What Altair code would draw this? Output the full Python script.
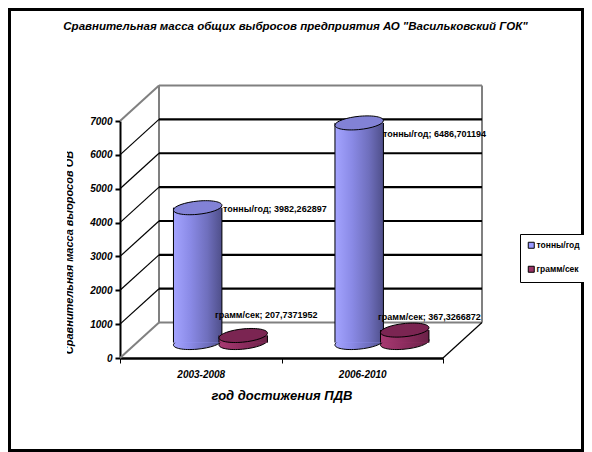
import altair as alt
import pandas as pd

# ---- values ----
CATEGORIES = ["2003-2008", "2006-2010"]
SERIES = ["тонны/год", "грамм/сек"]
TONS = [3982.262897, 6486.701194]
GRAMS = [207.7371952, 367.3266872]
TON_LABELS = ["тонны/год; 3982,262897", "тонны/год; 6486,701194"]
GRAM_LABELS = ["грамм/сек; 207,7371952", "грамм/сек; 367,3266872"]
Y_TICKS = [0, 1000, 2000, 3000, 4000, 5000, 6000, 7000]
TITLE = 'Сравнительная масса общих выбросов предприятия АО "Васильковский ГОК"'
X_TITLE = "год достижения ПДВ"
Y_TITLE = "Сравнительная масса выбросов ОВ"

# ---- pseudo-3D layout, expressed in scale units ----
DX, DY = 0.2415, 1047          # depth of the box
BASE = 457                     # floor level under the cylinders
CYL_W = 0.30
CYL_OFF = {SERIES[0]: 0.331, SERIES[1]: 0.613}
LABEL_OFF_X = {SERIES[0]: [0.638, 0.628], SERIES[1]: [0.588, 0.598]}
LABEL_Y = {SERIES[0]: [4400, 6615], SERIES[1]: [1270, 1210]}
FONT = "Liberation Sans"
W, H = 323, 237
PAD = {"left": 112, "top": 113, "right": 141, "bottom": 94}

x_q = alt.Scale(domain=[0, 2], range=[0, W])
y_q = alt.Scale(domain=[0, 7000], range=[H, 0], nice=False)
X = lambda f: alt.X(f, type="quantitative", scale=x_q, axis=None)
Y = lambda f: alt.Y(f, type="quantitative", scale=y_q, axis=None)


def seg_df(segs):
    return pd.DataFrame(segs, columns=["x0", "y0", "x1", "y1"])


def seg_layer(segs, color, width):
    return (
        alt.Chart(seg_df(segs))
        .mark_rule(color=color, strokeWidth=width)
        .encode(x=X("x0"), x2="x1:Q", y=Y("y0"), y2="y1:Q")
    )


top = Y_TICKS[-1]
inner = Y_TICKS[1:-1]
grey = [
    (0, 0, DX, DY), (0, top, DX, top + DY), (DX, DY, DX, top + DY),
    (DX, top + DY, 2 + DX, top + DY), (2 + DX, DY, 2 + DX, top + DY),
    (DX, DY, 2 + DX, DY),
]
diag = [(0, t, DX, t + DY) for t in inner] + [(2, 0, 2 + DX, DY)]
back = [(DX, t + DY, 2 + DX, t + DY) for t in inner]

axis_df = pd.DataFrame({"cat": CATEGORIES, "v": [0, 0]})
axes = (
    alt.Chart(axis_df)
    .mark_point(opacity=0)
    .encode(
        x=alt.X(
            "cat:N",
            sort=CATEGORIES,
            scale=alt.Scale(domain=CATEGORIES, range=[0, W], paddingInner=0, paddingOuter=0),
            axis=alt.Axis(
                title=X_TITLE, titleFont=FONT, titleFontSize=13, titleFontStyle="italic",
                titleFontWeight="bold", titleColor="black", titleY=31,
                labelFont=FONT, labelFontSize=10, labelFontStyle="italic", labelFontWeight="bold",
                labelColor="black", labelAngle=0, labelPadding=6,
                tickBand="extent", tickColor="black", tickWidth=1, tickSize=5,
                domainColor="black", domainWidth=2.5, grid=False,
            ),
        ),
        y=alt.Y(
            "v:Q",
            scale=y_q,
            axis=alt.Axis(
                values=Y_TICKS, format="d", title=Y_TITLE, titleFont=FONT, titleFontSize=11,
                titleFontStyle="italic", titleFontWeight="bold", titleColor="black",
                titleX=-48, titleY=131, titleBaseline="alphabetic", titleAngle=270,
                labelFont=FONT, labelFontSize=10, labelFontStyle="italic", labelFontWeight="bold",
                labelColor="black", labelPadding=3,
                tickColor="black", tickWidth=2, tickSize=5,
                domainColor="black", domainWidth=2, grid=False,
            ),
        ),
    )
)

mask = (
    alt.Chart(pd.DataFrame({"a": [0]}))
    .mark_rect(color="white")
    .encode(x=alt.value(-112), x2=alt.value(-53), y=alt.value(0), y2=alt.value(H))
)

title_mark = (
    alt.Chart(pd.DataFrame({"t": [TITLE]}))
    .mark_text(font=FONT, fontSize=11.5, fontStyle="italic", fontWeight="bold", color="black", align="center", baseline="middle")
    .encode(text="t:N", x=alt.value(W / 2 + 14), y=alt.value(-94))
)

CAP = "M -1 0.09 A 1 0.27 -6 1 1 1 -0.09 A 1 0.27 -6 1 1 -1 0.09 Z"
CAP_SIZE = 48.5 ** 2


def grad(stops):
    return alt.LinearGradient(
        gradient="linear", x1=0, x2=1, y1=0, y2=0,
        stops=[alt.GradientStop(offset=o, color=c) for o, c in stops],
    )


STYLE = {
    SERIES[0]: dict(
        flat="#9999ff", cap="#8282d6",
        stops=[(0, "#a4a4ff"), (0.35, "#8a8ae6"), (0.7, "#6f6fbd"), (1, "#4f4f8a")],
    ),
    SERIES[1]: dict(
        flat="#993366", cap="#7b2552",
        stops=[(0, "#a83a72"), (0.5, "#8c2c5e"), (1, "#6a2147")],
    ),
}


def cyl_df(series, values):
    return pd.DataFrame(
        {
            "series": series,
            "x0": [i + CYL_OFF[series] for i in range(2)],
            "x1": [i + CYL_OFF[series] + CYL_W for i in range(2)],
            "xc": [i + CYL_OFF[series] + CYL_W / 2 for i in range(2)],
            "base": BASE,
            "top": [v + BASE for v in values],
        }
    )


color = alt.Color(
    "series:N",
    sort=SERIES,
    scale=alt.Scale(domain=SERIES, range=[STYLE[s]["flat"] for s in SERIES]),
    legend=alt.Legend(
        orient="none", legendX=400, legendY=113, title=None, symbolType="square",
        symbolSize=36, symbolStrokeColor="black", symbolStrokeWidth=1,
        labelFont=FONT, labelFontSize=8.5, labelFontWeight="bold", labelColor="black",
        strokeColor="black", fillColor="white", padding=7, rowPadding=13, labelOffset=1,
        cornerRadius=0,
    ),
)


def cylinder(series, values):
    st = STYLE[series]
    d = cyl_df(series, values)
    g = grad(st["stops"])
    shape = dict(shape=CAP, size=CAP_SIZE, opacity=1, strokeWidth=1, stroke="black")
    bottom = alt.Chart(d).mark_point(fill=g, fillOpacity=1, **shape).encode(x=X("xc"), y=Y("base"))
    flat = alt.Chart(d).mark_rect().encode(x=X("x0"), x2="x1:Q", y=Y("base"), y2="top:Q", color=color)
    shade = alt.Chart(d).mark_rect(color=g).encode(x=X("x0"), x2="x1:Q", y=Y("base"), y2="top:Q")
    left = alt.Chart(d).mark_rule(color="black", strokeWidth=1).encode(x=X("x0"), y=Y("base"), y2="top:Q")
    right = alt.Chart(d).mark_rule(color="black", strokeWidth=1).encode(x=X("x1"), y=Y("base"), y2="top:Q")
    cap = (
        alt.Chart(d)
        .mark_point(fill=st["cap"], fillOpacity=1, **shape)
        .encode(x=X("xc"), y=Y("top"))
    )
    return [bottom, flat, shade, left, right, cap]


def labels(series, texts):
    d = pd.DataFrame(
        {
            "t": texts,
            "x": [i + LABEL_OFF_X[series][i] for i in range(2)],
            "y": LABEL_Y[series],
        }
    )
    return (
        alt.Chart(d)
        .mark_text(font=FONT, fontSize=9, fontWeight="bold", align="left", baseline="middle", color="black")
        .encode(x=X("x"), y=Y("y"), text="t:N")
    )


border = (
    alt.Chart(pd.DataFrame({"a": [0]}))
    .mark_rect(fillOpacity=0, stroke="black", strokeWidth=3)
    .encode(x=alt.value(-110.5), x2=alt.value(462.5), y=alt.value(-111.5), y2=alt.value(329.5))
)

layers = [
    axes,
    mask,
    title_mark,
    seg_layer(grey, "#808080", 2),
    seg_layer(back, "black", 2.2),
    seg_layer(diag, "black", 1.2),
    *cylinder(SERIES[0], TONS),
    *cylinder(SERIES[1], GRAMS),
    labels(SERIES[0], TON_LABELS),
    labels(SERIES[1], GRAM_LABELS),
    border,
]

chart = (
    alt.layer(*layers)
    .resolve_scale(x="independent")
    .resolve_axis(x="independent", y="independent")
    .properties(
        width=W,
        height=H,
        padding=PAD,
        autosize=alt.AutoSizeParams(type="none", contains="content"),
        background="white",
    )
    .configure_view(stroke=None)
)

chart.save("out.html", embed_options={"renderer": "svg", "actions": False})
